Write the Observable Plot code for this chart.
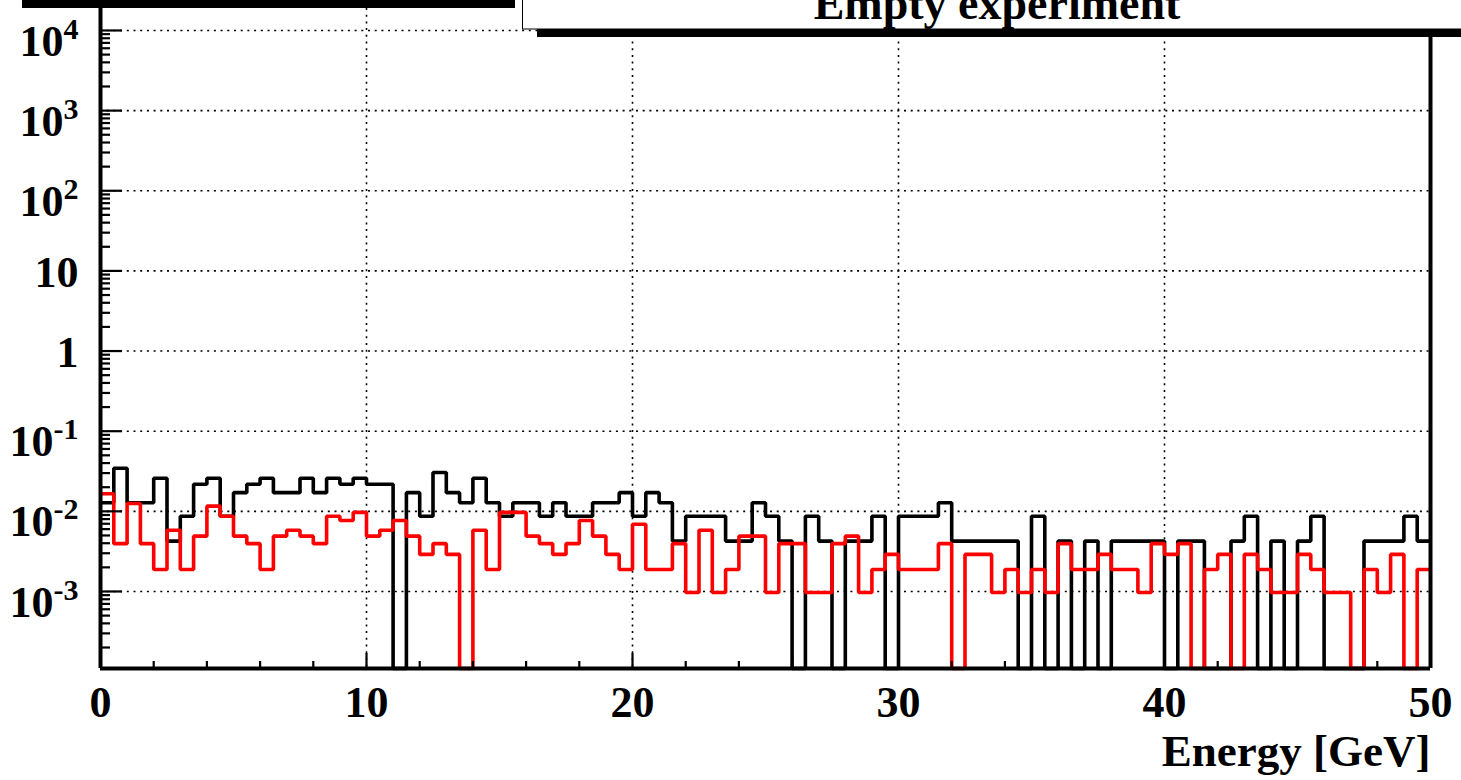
<!DOCTYPE html>
<html><head><meta charset="utf-8">
<script src="https://cdn.jsdelivr.net/npm/d3@7"></script>
<script src="https://cdn.jsdelivr.net/npm/@observablehq/plot@0.6"></script>
<style>
html,body{margin:0;padding:0;background:#fff;}
#chart{position:relative;width:1461px;height:780px;overflow:hidden;}
</style></head><body><div id="chart"></div>
<script>
// ---- data ----
const xMin = 0, xMax = 50, binWidth = 0.5;
const blackCounts = [
0.0128,0.0345,0.0128,0.0128,0.0259,0.00425,0.0087,0.0218,0.0259,0.0087,
0.0171,0.0218,0.0259,0.0171,0.0171,0.0259,0.0171,0.0259,0.0218,0.0259,
0.0218,0.0218,0,0.0171,0.0087,0.0305,0.0171,0.0128,0.0259,0.0128,
0.0087,0.0128,0.0128,0.0087,0.0128,0.0087,0.0087,0.0128,0.0128,0.0171,
0.0087,0.0171,0.0128,0.00425,0.0087,0.0087,0.0087,0.00425,0.00425,0.0128,
0.0087,0.00425,0,0.0087,0.00425,0,0.00425,0.00425,0.0087,0,
0.0087,0.0087,0.0087,0.0128,0.00425,0.00425,0.00425,0.00425,0.00425,0,
0.0087,0,0.00425,0,0.00425,0,0.00425,0.00425,0.00425,0.00425,
0,0.00425,0.00425,0,0,0.00425,0.0087,0,0.00425,0,
0.00425,0.0087,0,0,0,0.00425,0.00425,0.00425,0.0087,0.00425];
const redCounts = [
0.0166,0.00395,0.0125,0.00395,0.00188,0.0058,0.00188,0.0049,0.0116,0.0087,
0.0049,0.00395,0.00188,0.0049,0.0058,0.0049,0.00395,0.0087,0.0077,0.0097,
0.0049,0.0058,0.0077,0.0049,0.0029,0.00395,0.0029,0,0.0058,0.00188,
0.0097,0.0097,0.0049,0.00395,0.0029,0.00395,0.0077,0.0049,0.0029,0.00188,
0.0069,0.00188,0.00188,0.00395,0.00097,0.0058,0.00097,0.00188,0.0049,0.0049,
0.00097,0.00395,0.00395,0.00097,0.00097,0.00395,0.0049,0.00097,0.00188,0.0029,
0.00188,0.00188,0.00188,0.00395,0,0.0029,0.0029,0.00097,0.00188,0.00097,
0.00188,0.00097,0.00395,0.00188,0.00188,0.0029,0.00188,0.00188,0.00097,0.00395,
0.0029,0.00395,0,0.00188,0.0029,0,0.0029,0.00188,0.00097,0.00097,
0.0029,0.00188,0.00097,0.00097,0,0.00188,0.00097,0.0029,0,0.00188];
const yMin = 1.094e-4, yMax = 1.88e4;
const yTickValues = [1e-3,1e-2,1e-1,1,10,1e2,1e3,1e4];
const yTickLabels = ["10^-3","10^-2","10^-1","1","10","10^2","10^3","10^4"];
const xGridValues = [10,20,30,40];
const xLabelValues = [0,10,20,30,40,50];
const xMinorTickValues = [2,4,6,8,12,14,16,18,22,24,26,28,32,34,36,38,42,44,46,48];
const xTitle = "Energy [GeV]";
const titleText = "Empty experiment";

// ---- helpers ----
function steps(vals){
  const pts = [];
  vals.forEach((v,i)=>{
    const lo = xMin + i*binWidth, hi = lo + binWidth;
    const y = v > 0 ? v : yMin;
    pts.push({x:lo,y},{x:hi,y});
  });
  return pts;
}
const yMinor = [];
for (let e=-4;e<=4;e++) for (let m=2;m<=9;m++){ const v=m*Math.pow(10,e); if(v>yMin && v<yMax) yMinor.push(v); }
const yRows = yTickValues.map((v,i)=>({v, label:yTickLabels[i]}));
const plainRows = yRows.filter(d=>!d.label.includes("^"));
const powRows = yRows.filter(d=>d.label.includes("^"));

const font = "'Liberation Serif','Times New Roman',serif";
const dotted = {stroke:"black", strokeWidth:1.6, strokeDasharray:"2,4.7"};

const plot = Plot.plot({
  width:1461, height:780,
  marginLeft:100, marginRight:31, marginTop:8, marginBottom:112,
  x:{domain:[xMin,xMax], axis:null},
  y:{type:"log", domain:[yMin,yMax], axis:null},
  style:{fontFamily:font, background:"white", color:"black", overflow:"visible"},
  marks:[
    Plot.ruleX(xGridValues, dotted),
    Plot.ruleY(yTickValues, dotted),
    Plot.line(steps(blackCounts), {x:"x", y:"y", stroke:"black", strokeWidth:3.6, strokeLinejoin:"miter", strokeLinecap:"butt"}),
    Plot.line(steps(redCounts), {x:"x", y:"y", stroke:"#ff0000", strokeWidth:3.6, strokeLinejoin:"miter", strokeLinecap:"butt"}),
    Plot.axisY(yTickValues, {anchor:"left", tickSize:-22, strokeWidth:2.2, tickFormat:()=>"", label:null}),
    Plot.axisY(yMinor, {anchor:"left", tickSize:-10, strokeWidth:2.2, tickFormat:()=>"", label:null}),
    Plot.axisX(xLabelValues, {anchor:"bottom", tickSize:-15, strokeWidth:2.2, tickFormat:()=>"", label:null}),
    Plot.axisX(xMinorTickValues, {anchor:"bottom", tickSize:-7, strokeWidth:2.2, tickFormat:()=>"", label:null}),
    Plot.ruleX([xMin], {stroke:"black", strokeWidth:4}),
    Plot.ruleX([xMax], {stroke:"black", strokeWidth:4}),
    Plot.ruleY([yMin], {stroke:"black", strokeWidth:4}),
    Plot.text(plainRows, {y:"v", text:"label", frameAnchor:"left", dx:-22, dy:2, textAnchor:"end", fontSize:44, fontWeight:"bold", fill:"black"}),
    Plot.text(powRows, {y:"v", text:"label", frameAnchor:"left", dx:-22, dy:11, textAnchor:"end", fontSize:44, fontWeight:"bold", fill:"black"}),
    Plot.text(xLabelValues, {x:d=>d, text:d=>String(d), frameAnchor:"bottom", lineAnchor:"top", dy:17, fontSize:44, fontWeight:"bold", fill:"black"}),
    Plot.text([xTitle], {frameAnchor:"bottom-right", textAnchor:"end", lineAnchor:"top", dy:66, fontSize:45, fontWeight:"bold", fill:"black"})
  ]
});
const svg = plot.tagName.toLowerCase()==="svg" ? plot : plot.querySelector("svg");
// superscripts for 10^k labels
d3.select(svg).selectAll("text").filter(function(){return this.textContent.includes("^");}).each(function(){
  const parts = this.textContent.split("^");
  const t = d3.select(this);
  t.text(null);
  t.append("tspan").text(parts[0]);
  t.append("tspan").attr("font-size",30).attr("dy",-17).text(parts[1]);
});
// title box with shadow, and the shadow bar of the box above
const g = d3.select(svg).append("g");
g.append("rect").attr("x",22).attr("y",-2).attr("width",493).attr("height",10).attr("fill","black");
g.append("rect").attr("x",537).attr("y",29).attr("width",940).attr("height",8).attr("fill","black");
g.append("rect").attr("x",522.5).attr("y",-30).attr("width",960).attr("height",59).attr("fill","white").attr("stroke","black").attr("stroke-width",1);
g.append("text").attr("x",997).attr("y",19).attr("text-anchor","middle").attr("font-family",font)
  .attr("font-size",46).attr("font-weight","bold").attr("fill","black").text(titleText);
document.getElementById("chart").appendChild(plot);
</script></body></html>
